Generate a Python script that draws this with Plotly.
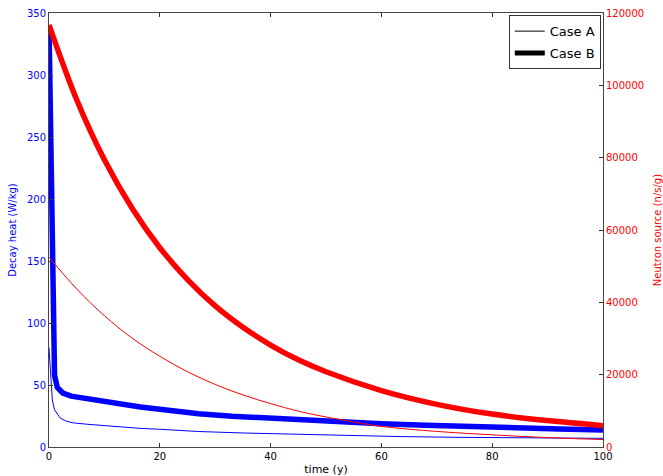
import plotly.graph_objects as go

# ---- data ----
t_heat_b = [0, 0.25, 0.5, 0.75, 1.0, 1.5, 2.5, 4, 6, 8, 10, 13, 16.5, 20, 27, 33, 40, 45, 52, 60, 68, 75, 85, 92, 100]
heat_b = [340, 250, 150, 80, 58, 48, 43.5, 41, 39.5, 38.3, 36.8, 34.7, 32.2, 30.5, 26.8, 24.8, 23.0, 21.6, 20.2, 18.8, 17.6, 16.5, 15.2, 14.5, 13.8]

t_heat_a = [0, 0.3, 0.6, 1.0, 2.0, 3.0, 4.3, 7, 12.8, 16.5, 20, 27, 35, 45, 55, 63.5, 74, 85, 100]
heat_a = [80, 55, 38, 30, 23.5, 21, 19.5, 18.3, 16.0, 15.0, 14.3, 12.5, 11.3, 10.2, 9.2, 8.4, 7.8, 7.4, 7.0]

t_neut_b = [0, 5, 10, 15, 20, 25, 30, 35, 40, 45, 50, 60, 70, 80, 90, 100]
neut_b = [116700, 96000, 79400, 66000, 55100, 46300, 39000, 33100, 28200, 24100, 20800, 15600, 11800, 9100, 7300, 5900]

t_neut_a = [0, 5, 10, 15, 20, 25, 30, 35, 40, 45, 50, 55, 60, 70, 80, 90, 100]
neut_a = [52500, 43700, 36300, 30100, 25100, 20800, 17300, 14400, 12000, 9900, 8300, 6900, 5700, 4300, 3360, 2600, 2050]

x_ticks = [0, 20, 40, 60, 80, 100]
y1_ticks = [0, 50, 100, 150, 200, 250, 300, 350]
y2_ticks = [0, 20000, 40000, 60000, 80000, 100000, 120000]
legend_names = ["Case A", "Case B"]

BLUE = "#0000ff"
RED = "#ff0000"
FONT = "DejaVu Sans"

fig = go.Figure()

fig.add_trace(go.Scatter(x=t_neut_b, y=neut_b, yaxis="y2", mode="lines", line=dict(color=RED, width=5.5, shape="spline", smoothing=1), showlegend=False))
fig.add_trace(go.Scatter(x=t_neut_a, y=neut_a, yaxis="y2", mode="lines", line=dict(color=RED, width=1, shape="spline", smoothing=1), showlegend=False))
fig.add_trace(go.Scatter(x=t_heat_b, y=heat_b, yaxis="y", mode="lines", line=dict(color=BLUE, width=5.5), showlegend=False))
fig.add_trace(go.Scatter(x=t_heat_a, y=heat_a, yaxis="y", mode="lines", line=dict(color=BLUE, width=1), showlegend=False))

# legend entries
fig.add_trace(go.Scatter(x=[None], y=[None], mode="lines", name=legend_names[0], legendgroup="a", line=dict(color="black", width=1)))
fig.add_trace(go.Scatter(x=[None], y=[None], mode="lines", name=legend_names[1], legendgroup="b", line=dict(color="black", width=5)))

fig.update_layout(
    width=663, height=476,
    margin=dict(l=49, r=60, t=13, b=29),
    paper_bgcolor="white", plot_bgcolor="white",
    font=dict(family=FONT, size=10, color="black"),
    xaxis=dict(range=[0, 100], tickvals=x_ticks, ticks="inside", ticklen=4, tickcolor="#333",
               showline=True, linecolor="#444", linewidth=1, mirror="ticks", showgrid=False, zeroline=False,
               automargin=False,
               title=dict(text="time (y)", font=dict(size=11, color="black"), standoff=4),
               tickfont=dict(size=10, color="black")),
    yaxis=dict(range=[0, 350], tickvals=y1_ticks, ticks="inside", ticklen=4, tickcolor="#333",
               showline=True, linecolor="#444", linewidth=1, mirror=True, showgrid=False, zeroline=False,
               automargin=False,
               title=dict(text="Decay heat (W/kg)", font=dict(size=10, color=BLUE), standoff=8),
               tickfont=dict(size=10, color=BLUE)),
    yaxis2=dict(range=[0, 120000], tickvals=y2_ticks, tickformat="d", overlaying="y", side="right",
                ticks="inside", ticklen=4, tickcolor="#333", automargin=False,
                showline=True, linecolor="#444", linewidth=1, showgrid=False, zeroline=False,
                title=dict(text="Neutron source (n/s/g)", font=dict(size=10, color=RED), standoff=10),
                tickfont=dict(size=10, color=RED)),
    legend=dict(x=0.996, y=0.995, xanchor="right", yanchor="top", bgcolor="white",
                bordercolor="#333", borderwidth=1, font=dict(size=13, color="black"),
                itemwidth=30, tracegroupgap=2),
)

fig.write_html("out.html")
